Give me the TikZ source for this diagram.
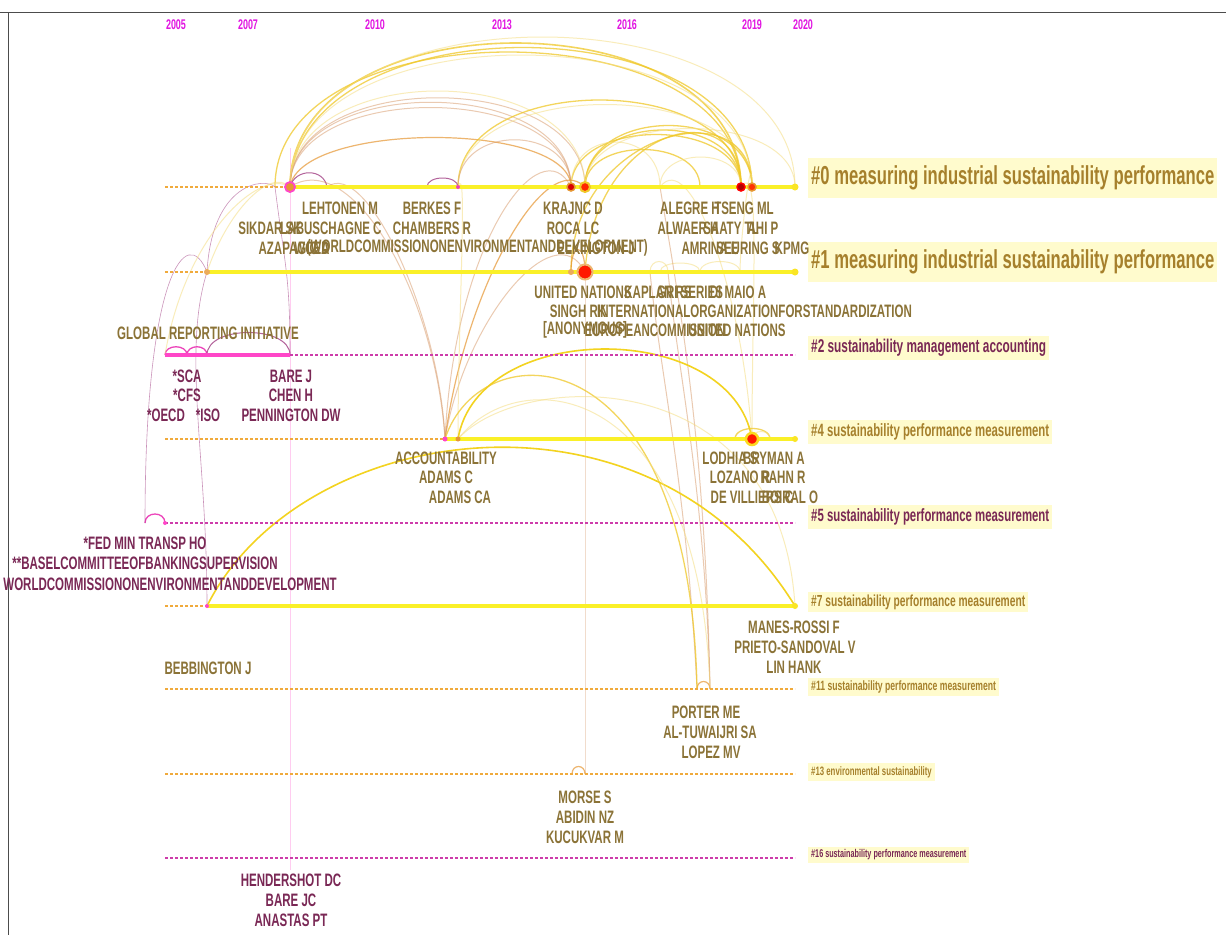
\documentclass[tikz,border=0pt]{standalone}
\usepackage{fontspec}
\newfontfamily\nf{Liberation Sans}[FakeStretch=0.64]
\definecolor{olv}{RGB}{139,115,55}
\definecolor{prp}{RGB}{122,40,85}
\definecolor{gld}{RGB}{166,128,44}
\definecolor{bgy}{RGB}{255,251,205}
\definecolor{yrm}{RGB}{225,20,225}
\definecolor{tly}{RGB}{250,240,40}
\definecolor{dso}{RGB}{240,170,60}
\definecolor{dsm}{RGB}{205,60,170}
\definecolor{mgs}{RGB}{255,70,200}
\definecolor{acy}{RGB}{240,200,40}
\definecolor{act}{RGB}{215,150,100}
\definecolor{acl}{RGB}{245,222,130}
\definecolor{acp}{RGB}{160,60,130}
\definecolor{aco}{RGB}{230,150,50}
\begin{document}
\begin{tikzpicture}[x=1pt,y=-1pt,
  lab/.style={font=\nf\bfseries\fontsize{18}{20}\selectfont,text=olv,inner sep=0pt},
  labp/.style={lab,text=prp},
  yr/.style={font=\nf\bfseries\fontsize{14}{14}\selectfont,text=yrm,inner sep=0pt},
  clb/.style={font=\nf\bfseries,fill=bgy,anchor=west,inner xsep=3pt},
  tlsolid/.style={draw=tly,line width=4.5pt},
  tldo/.style={draw=dso,line width=1.2pt,dash pattern=on 3pt off 2pt},
  tldm/.style={draw=dsm,line width=1.2pt,dash pattern=on 3pt off 2pt},
  arcY/.style={draw=acy,line width=1.3pt,opacity=.75},
  arcYs/.style={draw=acy!80!yellow,line width=1.6pt},
  arcT/.style={draw=act,line width=1pt,opacity=.5},
  arcL/.style={draw=acl,line width=1pt,opacity=.55},
  arcO/.style={draw=aco,line width=1.2pt,opacity=.7},
  arcP/.style={draw=acp,line width=1pt,opacity=.8},
  arcPt/.style={draw=acp,line width=.6pt,opacity=.55},
  arcPm/.style={draw=mgs!80!acp,line width=1.3pt},
  dot/.style={circle,inner sep=0pt,minimum size=#1},
]
\useasboundingbox (0,0) rectangle (1226,935);
\fill[white] (0,0) rectangle (1226,935);
\draw[black!70,line width=1pt] (0,12) -- (1226,12);
\draw[black!70,line width=1pt] (8,12) -- (8,935);

% years
\node[yr] (y05) at (176,25) {2005};
\node[yr] (y07) at (248,25) {2007};
\node[yr] (y10) at (375,25) {2010};
\node[yr] (y13) at (502,25) {2013};
\node[yr] (y16) at (627,25) {2016};
\node[yr] (y19) at (752,25) {2019};
\node[yr] (y20) at (803,25) {2020};

% node positions
\coordinate (n0s) at (165,187); \coordinate (n0l) at (275,187);
\coordinate (n0a) at (290,187); \coordinate (n0b) at (327,187);
\coordinate (n0c) at (427,187); \coordinate (n0d) at (458,187);
\coordinate (n0e) at (571,187); \coordinate (n0f) at (585,187);
\coordinate (n0j) at (660,187); \coordinate (n0k) at (700,187);
\coordinate (n0g) at (741,187); \coordinate (n0h) at (752,187);
\coordinate (n0i) at (795,187);
\coordinate (n1s) at (165,272); \coordinate (n1a) at (207,272);
\coordinate (n1b) at (571,272); \coordinate (n1c) at (585,272);
\coordinate (n1d) at (650,272); \coordinate (n1e) at (660,272);
\coordinate (n1f) at (668,272); \coordinate (n1g) at (700,272);
\coordinate (n1h) at (740,272); \coordinate (n1i) at (795,272);
\coordinate (n2s) at (165,355); \coordinate (n2a) at (187,355);
\coordinate (n2b) at (207,355); \coordinate (n2c) at (290,355);
\coordinate (n2i) at (795,355);
\coordinate (n4s) at (165,439); \coordinate (n4a) at (445,439);
\coordinate (n4b) at (458,439); \coordinate (n4c) at (735,439);
\coordinate (n4d) at (752,439); \coordinate (n4e) at (770,439);
\coordinate (n4i) at (795,439);
\coordinate (n5x) at (145,523); \coordinate (n5a) at (165,523);
\coordinate (n5i) at (795,523);
\coordinate (n7s) at (165,606); \coordinate (n7a) at (207,606);
\coordinate (n7i) at (795,606);
\coordinate (n11s) at (165,689); \coordinate (n11a) at (697,689);
\coordinate (n11b) at (710,689); \coordinate (n11i) at (795,689);
\coordinate (n13s) at (165,774); \coordinate (n13a) at (572,774);
\coordinate (n13b) at (585,774); \coordinate (n13i) at (795,774);
\coordinate (n16s) at (165,858); \coordinate (n16a) at (290,870);
\coordinate (n16i) at (795,858);
\coordinate (ntop) at (290,148);

% ---- arcs ----
\draw[mgs!60!white,line width=.8pt,opacity=.45] (n16a) -- (ntop);
% row 0 big arcs
\draw[arcY,line width=1.6pt] (n0a) .. controls +(0,-192) and +(0,-192) .. (n0g);
\draw[arcY] (n0a) .. controls +(5,-186) and +(0,-186) .. (n0h);
\draw[arcY] (n0l) .. controls +(0,-180) and +(0,-180) .. (n0g);
\draw[arcL] (n0a) .. controls +(0,-200) and +(0,-200) .. (n0i);
\draw[arcL] (n0a) .. controls +(0,-176) and +(0,-176) .. (n0h);
\draw[arcT] (n0a) .. controls +(0,-113) and +(0,-113) .. (n0e);
\draw[arcT] (n0a) .. controls +(0,-106) and +(0,-106) .. (n0e);
\draw[arcT] (n0a) .. controls +(0,-119) and +(0,-119) .. (n0f);
\draw[arcL] (n0a) .. controls +(0,-128) and +(0,-128) .. (n0f);
\draw[arcO] (n0a) .. controls +(10,-66) and +(0,-66) .. (n0e);
\draw[arcY] (n0d) .. controls +(0,-116) and +(0,-116) .. (n0g);
\draw[arcL] (n0d) .. controls +(0,-110) and +(0,-110) .. (n0h);
\draw[arcT] (n0d) .. controls +(0,-63) and +(0,-63) .. (n0e);
\draw[arcY] (n0e) .. controls +(0,-70) and +(0,-70) .. (n0g);
\draw[arcY] (n0f) .. controls +(0,-76) and +(0,-76) .. (n0g);
\draw[arcY] (n0f) .. controls +(0,-82) and +(0,-82) .. (n0h);
\draw[arcY] (n0f) .. controls +(0,-50) and +(0,-50) .. (n0k);
\draw[arcL] (n0e) .. controls +(0,-60) and +(0,-60) .. (n0j);
\draw[arcL] (n0f) .. controls +(0,-78) and +(0,-78) .. (n0i);
\draw[arcL] (n0j) .. controls +(0,-40) and +(0,-40) .. (n0g);
\draw[arcP] (n0a) .. controls +(5,-19) and +(-3,-19) .. (n0b);
\draw[arcP] (n0c) .. controls +(0,-12) and +(0,-12) .. (n0d);
% row 1 upward arcs
\draw[arcY] (n1c) .. controls +(10,-150) and +(0,-95) .. (n0g);
\draw[arcY] (n1b) .. controls +(0,-140) and +(0,-100) .. (n0h);
\draw[arcO] (n1b) .. controls +(0,-30) and +(0,-30) .. (n1c);
\draw[arcL] (n1d) .. controls +(0,-14) and +(0,-14) .. (n1f);
\draw[arcL] (n1e) .. controls +(0,-12) and +(0,-12) .. (n1g);
\draw[arcL] (n1g) .. controls +(0,-14) and +(0,-14) .. (n1h);
\draw[arcL] (n1h) .. controls +(0,-30) and +(0,-50) .. (n0h);
% to accountability
\draw[arcT] (n0a) .. controls +(60,-40) and +(-10,-150) .. (n4a);
\draw[arcT] (n0b) .. controls +(40,-30) and +(-5,-120) .. (n4a);
\draw[arcT] (n0e) .. controls +(-30,-60) and +(10,-200) .. (n4a);
\draw[arcO] (n0f) .. controls +(-40,-40) and +(20,-150) .. (n4a);
\draw[arcT] (n1c) .. controls +(-30,-60) and +(20,-120) .. (n4a);
\draw[arcL] (n0d) .. controls +(10,-30) and +(0,-120) .. (n4b);
% to lower rows
\draw[arcT] (n13b) .. controls +(0,-200) and +(0,200) .. (n1c);
\draw[arcO] (n13a) .. controls +(0,-10) and +(0,-10) .. (n13b);
\draw[arcT] (n1d) .. controls +(10,100) and +(-10,-200) .. (n11a);
\draw[arcT] (n1f) .. controls +(10,100) and +(-5,-200) .. (n11b);
\draw[arcT] (n0j) .. controls +(20,120) and +(-5,-250) .. (n11b);
\draw[arcO] (n11a) .. controls +(0,-10) and +(0,-10) .. (n11b);
\draw[arcL] (n0j) .. controls +(30,-40) and +(-10,-150) .. (n4d);
\draw[arcL] (n0g) .. controls +(20,-30) and +(0,-150) .. (n4d);
% lower yellow arcs
\draw[arcYs] (n7a) .. controls (300,420) and (650,370) .. (n7i);
\draw[arcYs] (n4b) .. controls +(20,-120) and +(-20,-120) .. (n4d);
\draw[arcY] (n4a) .. controls (480,330) and (690,330) .. (n11a);
\draw[arcL] (n4b) .. controls (520,360) and (700,380) .. (n11b);
\draw[arcL] (n4b) .. controls (520,370) and (780,360) .. (n7i);
\draw[arcY] (n4c) .. controls +(0,-14) and +(0,-14) .. (n4e);
\draw[arcL] (n4d) .. controls +(0,-10) and +(0,-10) .. (n4e);
% purple arcs, left
\draw[arcPm] (n5x) .. controls +(0,-12) and +(0,-12) .. (n5a);
\draw[arcPt] (n5x) .. controls +(0,-250) and +(-20,-50) .. (n1a);
\draw[arcPt] (n1a) .. controls +(-25,80) and +(0,-150) .. (n7a);
\draw[arcPt] (n0l) .. controls +(10,80) and +(0,-80) .. (n2c);
\draw[arcPt] (n1a) .. controls +(5,-90) and +(-10,-10) .. (n0l);
\draw[arcPm] (n2s) .. controls +(0,-11) and +(0,-11) .. (n2a);
\draw[arcPm] (n2a) .. controls +(0,-11) and +(0,-11) .. (n2b);
\draw[arcP] (n2b) .. controls +(0,-30) and +(0,-30) .. (n2c);
\draw[arcL] (n1a) .. controls +(20,-60) and +(-20,-20) .. (n0a);
\draw[arcL] (n2s) .. controls +(20,-120) and +(-30,-20) .. (n0a);

% ---- timelines ----
\draw[tldo] (n0s) -- (n0a); \draw[tlsolid] (n0a) -- (n0i);
\draw[tldo] (n1s) -- (n1a); \draw[tlsolid] (n1a) -- (n1i);
\draw[mgs,line width=4pt] (n2s) -- (n2c); \draw[tldm] (n2c) -- (n2i);
\draw[tldo] (n4s) -- (n4a); \draw[tlsolid] (n4a) -- (n4i);
\draw[tldm] (n5a) -- (n5i);
\draw[tldo] (n7s) -- (n7a); \draw[tlsolid] (n7a) -- (n7i);
\draw[tldo] (n11s) -- (n11i);
\draw[tldo] (n13s) -- (n13i);
\draw[tldm] (n16s) -- (n16i);

% ---- dots ----
\node[dot=10pt,fill=aco,draw=mgs,line width=1.8pt] (d0a) at (n0a) {};
\node[dot=4pt,fill=mgs!80!acp] (d0d) at (n0d) {};
\node[dot=8pt,fill=red!85!black,draw=aco,line width=1.5pt] (d0e) at (n0e) {};
\node[dot=10pt,fill=red!70!orange,draw=acy,line width=2pt] (d0f) at (n0f) {};
\node[dot=8pt,fill=red!70!black,draw=red,line width=1.5pt] (d0g) at (n0g) {};
\node[dot=8pt,fill=red!60!orange,draw=aco,line width=1.5pt] (d0h) at (n0h) {};
\node[dot=7pt,fill=tly!90!orange] (d0i) at (n0i) {};
\node[dot=6pt,fill=aco!80] (d1a) at (n1a) {};
\node[dot=6pt,fill=aco!80] (d1b) at (n1b) {};
\node[dot=15pt,fill=red!80!orange,draw=aco!70,line width=2pt] (d1c) at (n1c) {};
\node[dot=7pt,fill=tly!90!orange] (d1i) at (n1i) {};
\node[dot=5pt,fill=mgs] (d4a) at (n4a) {};
\node[dot=5pt,fill=aco] (d4b) at (n4b) {};
\node[dot=12pt,fill=red!80!orange,draw=tly!80!orange,line width=2.5pt] (d4d) at (n4d) {};
\node[dot=6pt,fill=tly!90!orange] (d4i) at (n4i) {};
\node[dot=4pt,fill=mgs] (d5a) at (n5a) {};
\node[dot=4pt,fill=mgs] (d7a) at (n7a) {};
\node[dot=6pt,fill=tly!90!orange] (d7i) at (n7i) {};

% ---- cluster labels ----
\node[clb,text=gld,font=\nf\bfseries\fontsize{26}{28}\selectfont,inner ysep=8pt] (c0) at (808,178) {\#0 measuring industrial sustainability performance};
\node[clb,text=gld,font=\nf\bfseries\fontsize{26}{28}\selectfont,inner ysep=8pt] (c1) at (808,262) {\#1 measuring industrial sustainability performance};
\node[clb,text=prp,font=\nf\bfseries\fontsize{18.5}{20}\selectfont,inner ysep=3pt] (c2) at (808,348) {\#2 sustainability management accounting};
\node[clb,text=gld,font=\nf\bfseries\fontsize{17.8}{20}\selectfont,inner ysep=4pt] (c4) at (808,432) {\#4 sustainability performance measurement};
\node[clb,text=prp,font=\nf\bfseries\fontsize{17.8}{20}\selectfont,inner ysep=4pt] (c5) at (808,517) {\#5 sustainability performance measurement};
\node[clb,text=gld,font=\nf\bfseries\fontsize{16}{18}\selectfont,inner ysep=3pt] (c7) at (808,602) {\#7 sustainability performance measurement};
\node[clb,text=gld,font=\nf\bfseries\fontsize{13.5}{15}\selectfont,inner ysep=3pt] (c11) at (808,687) {\#11 sustainability performance measurement};
\node[clb,text=gld,font=\nf\bfseries\fontsize{12.2}{14}\selectfont,inner ysep=3pt] (c13) at (808,772) {\#13 environmental sustainability};
\node[clb,text=prp,font=\nf\bfseries\fontsize{11.3}{13}\selectfont,inner ysep=3pt] (c16) at (808,855) {\#16 sustainability performance measurement};

% ---- node labels ----
% cluster 0
\node[lab] (l01) at (340,208) {LEHTONEN M};
\node[lab] (l02) at (270,228) {SIKDAR SK};
\node[lab] (l03) at (331,228) {LABUSCHAGNE C};
\node[lab] (l04) at (294,248) {AZAPAGIC A};
\node[lab] (l05) at (312,248) {WCED};
\node[lab,anchor=east] (l06) at (648,248) {(WORLDCOMMISSIONONENVIRONMENTANDDEVELOPMENT)};
\node[lab] (l07) at (596,248) {ELKINGTON J};
\node[lab] (l08) at (432,208) {BERKES F};
\node[lab] (l09) at (432,228) {CHAMBERS R};
\node[lab] (l10) at (573,208) {KRAJNC D};
\node[lab] (l11) at (573,228) {ROCA LC};
\node[lab] (l12) at (690,208) {ALEGRE H};
\node[lab] (l13) at (744,208) {TSENG ML};
\node[lab] (l14) at (688,228) {ALWAER H};
\node[lab] (l15) at (731,228) {SAATY TL};
\node[lab] (l16) at (763,228) {AHI P};
\node[lab] (l17) at (710,248) {AMRINA E};
\node[lab] (l18) at (748,248) {SEURING S};
\node[lab] (l19) at (792,248) {KPMG};
% cluster 1
\node[lab] (l20) at (583,292) {UNITED NATIONS};
\node[lab] (l21) at (658,292) {KAPLAN RS};
\node[lab] (l22) at (690,292) {GRI SERIES};
\node[lab] (l23) at (738,292) {DI MAIO A};
\node[lab] (l24) at (578,311) {SINGH RK};
\node[lab,anchor=east] (l25) at (912,311) {INTERNATIONALORGANIZATIONFORSTANDARDIZATION};
\node[lab] (l26) at (585,330) {[ANONYMOUS]};
\node[lab] (l27) at (655,330) {EUROPEANCOMMISSION};
\node[lab] (l28) at (737,330) {UNITED NATIONS};
% cluster 2
\node[lab] (l29) at (208,333) {GLOBAL REPORTING INITIATIVE};
\node[labp] (l30) at (187,376) {*SCA};
\node[labp] (l31) at (187,395) {*CFS};
\node[labp] (l32) at (166,415) {*OECD};
\node[labp] (l33) at (208,415) {*ISO};
\node[labp] (l34) at (291,376) {BARE J};
\node[labp] (l35) at (291,395) {CHEN H};
\node[labp] (l36) at (291,415) {PENNINGTON DW};
% cluster 4
\node[lab] (l37) at (446,458) {ACCOUNTABILITY};
\node[lab] (l38) at (446,477) {ADAMS C};
\node[lab] (l39) at (460,497) {ADAMS CA};
\node[lab] (l40) at (730,458) {LODHIA S};
\node[lab] (l41) at (774,458) {BRYMAN A};
\node[lab] (l42) at (740,477) {LOZANO R};
\node[lab] (l43) at (783,477) {RAHN R};
\node[lab] (l44) at (752,497) {DE VILLIERS C};
\node[lab] (l45) at (790,497) {BOIRAL O};
% cluster 5
\node[labp] (l46) at (145,543) {*FED MIN TRANSP HO};
\node[labp] (l47) at (145,563) {**BASELCOMMITTEEOFBANKINGSUPERVISION};
\node[labp] (l48) at (170,584) {WORLDCOMMISSIONONENVIRONMENTANDDEVELOPMENT};
% cluster 7
\node[lab] (l49) at (794,627) {MANES-ROSSI F};
\node[lab] (l50) at (795,647) {PRIETO-SANDOVAL V};
\node[lab] (l51) at (794,667) {LIN HANK};
% cluster 11
\node[lab] (l52) at (208,668) {BEBBINGTON J};
\node[lab] (l53) at (706,712) {PORTER ME};
\node[lab] (l54) at (710,732) {AL-TUWAIJRI SA};
\node[lab] (l55) at (711,752) {LOPEZ MV};
% cluster 13
\node[lab] (l56) at (585,797) {MORSE S};
\node[lab] (l57) at (585,817) {ABIDIN NZ};
\node[lab] (l58) at (585,837) {KUCUKVAR M};
% cluster 16
\node[labp] (l59) at (291,880) {HENDERSHOT DC};
\node[labp] (l60) at (291,900) {BARE JC};
\node[labp] (l61) at (291,920) {ANASTAS PT};
\end{tikzpicture}
\end{document}
